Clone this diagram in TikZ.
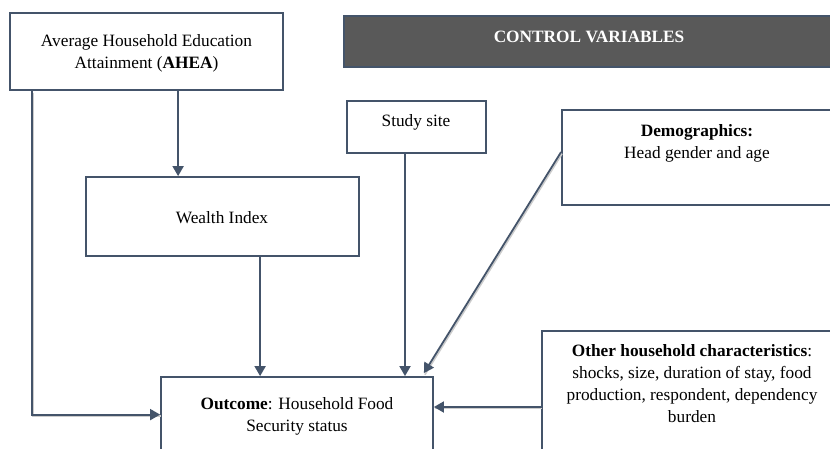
\documentclass[tikz,border=0pt]{standalone}
\usepackage{fontspec}
\setmainfont{Liberation Serif}
\usetikzlibrary{arrows.meta}
\definecolor{lineblue}{HTML}{44546A}
\definecolor{bargray}{HTML}{595959}
\begin{document}
\begin{tikzpicture}[x=1pt,y=-1pt,
  box/.style={draw=lineblue,line width=1.8pt,rectangle,inner sep=0pt,minimum width=#1},
  txt/.style={inner sep=0pt,align=center,font=\fontsize{17.3}{22}\selectfont},
  conn/.style={draw=lineblue,line width=1.8pt,-{Triangle[length=10pt,width=11pt]},
    preaction={draw=gray!40,line width=1.6pt,-,transform canvas={shift={(1pt,-1.6pt)}}}},
  conn2/.style={draw=lineblue,line width=1.8pt,-{Triangle[length=10pt,width=11pt]}}]
\useasboundingbox (0,0) rectangle (830,448);
\clip (0,0) rectangle (830,448);
\fill[white] (0,0) rectangle (830,448);
% boxes
\node[box=273pt,minimum height=77pt] (ahea) at (146.5,51.5) {};
\node[box=490pt,minimum height=51pt,fill=bargray] (ctrl) at (589,41.5) {};
\node[box=139pt,minimum height=52pt] (site) at (416.5,127) {};
\node[box=274pt,minimum height=95pt] (demo) at (699,157.5) {};
\node[box=273pt,minimum height=79pt] (wealth) at (222.5,216.5) {};
\node[box=272pt,minimum height=93pt] (out) at (297,423.5) {};
\node[box=300pt,minimum height=150pt] (other) at (692,406) {};
% texts
\node[txt] (aheat) at (146.5,53.5) {Average Household Education\\Attainment (\textbf{AHEA})};
\node[txt,anchor=base,text=white] (ctrlt) at (589,42) {\textbf{CONTROL VARIABLES}};
\node[txt,anchor=base] (sitet) at (416,126) {Study site};
\node[txt] (demot) at (697,143) {\textbf{Demographics:}\\Head gender and age};
\node[txt,anchor=base] (wealtht) at (222,223) {Wealth Index};
\node[txt] (outt) at (297,416.5) {\textbf{Outcome}: Household Food\\Security status};
\node[txt] (othert) at (692,384) {\textbf{Other household characteristics}:\\shocks, size, duration of stay, food\\production, respondent, dependency\\burden};
% connectors
\draw[conn] ([xshift=23pt]ahea.south west) |- ([yshift=-38.5pt]out.north west);
\draw[conn2] ([xshift=169pt]ahea.south west) -- ([xshift=169pt]ahea.south west |- wealth.north);
\draw[conn2] ([xshift=175pt]wealth.south west) -- ([xshift=175pt]wealth.south west |- out.north);
\draw[conn2] ([xshift=-11.5pt]site.south) -- ([xshift=-11.5pt]site.south |- out.north);
\draw[conn] ([yshift=5.5pt]demo.west) -- ([xshift=-10pt,yshift=3pt]out.north east);
\draw[conn] ([yshift=-1pt]other.west) -- ([yshift=-1pt]other.west -| out.east);
\end{tikzpicture}
\end{document}
